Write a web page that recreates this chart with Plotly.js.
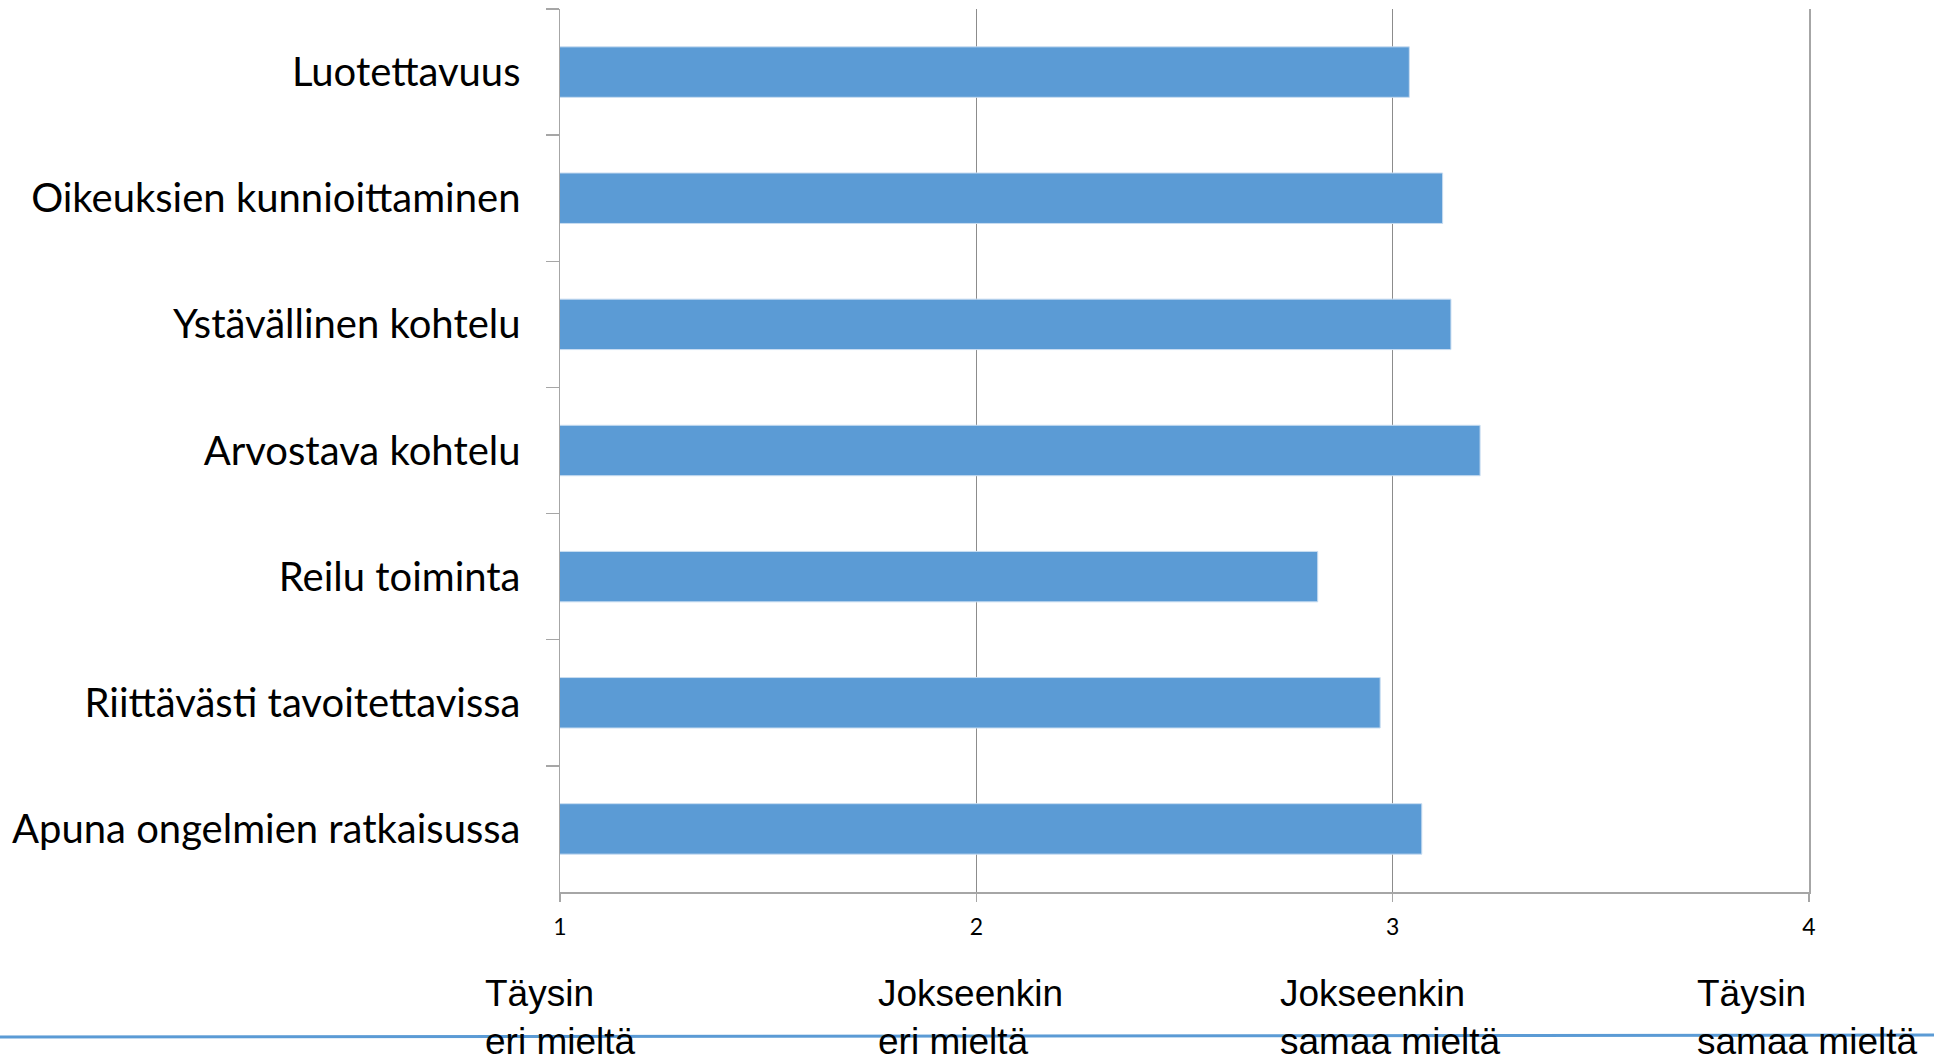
<!DOCTYPE html>
<html>
<head>
<meta charset="utf-8">
<script src="https://cdn.plot.ly/plotly-3.0.1.min.js"></script>
<style>
  html, body { margin: 0; padding: 0; background: #ffffff; }
  #chart { width: 1934px; height: 1054px; }
</style>
</head>
<body>
<div id="chart"></div>
<script>
// Categories, top to bottom
const categories = [
  "Luotettavuus",
  "Oikeuksien kunnioittaminen",
  "Ystävällinen kohtelu",
  "Arvostava kohtelu",
  "Reilu toiminta",
  "Riittävästi tavoitettavissa",
  "Apuna ongelmien ratkaisussa"
];
// Mean scores (scale 1–4)
const values = [3.04, 3.12, 3.14, 3.21, 2.82, 2.97, 3.07];
// Axis ticks
const tickValues = [1, 2, 3, 4];
const tickTexts = ["1", "2", "3", "4"];
// Scale descriptions under the axis
const scaleLabels = [
  "Täysin<br>eri mieltä",
  "Jokseenkin<br>eri mieltä",
  "Jokseenkin<br>samaa mieltä",
  "Täysin<br>samaa mieltä"
];

const W = 1934, H = 1054;
const ML = 560, MR = 125, MT = 9, MB = 162;
const plotW = W - ML - MR, plotH = H - MT - MB;
const px2paperX = p => (p - ML) / plotW;
const px2paperY = p => (H - MB - p) / plotH;

const labelLeftPx = [483, 876, 1278, 1695];

const annotations = scaleLabels.map((t, i) => ({
  text: t,
  xref: "paper", yref: "paper",
  x: px2paperX(labelLeftPx[i]),
  y: px2paperY(971),
  xanchor: "left", yanchor: "top",
  align: "left",
  showarrow: false,
  font: { family: "'Liberation Sans', Arial, sans-serif", size: 37, color: "#000000" }
}));

const trace = {
  type: "bar",
  orientation: "h",
  y: categories,
  x: values,
  marker: { color: "#5b9bd5", line: { color: "#c9ddf1", width: 1 } },
  hoverinfo: "x+y"
};

const layout = {
  width: W, height: H,
  margin: { l: ML, r: MR, t: MT, b: MB, pad: 0 },
  paper_bgcolor: "#ffffff",
  plot_bgcolor: "#ffffff",
  showlegend: false,
  bargap: 0.6,
  font: { family: "Lato, 'Open Sans', sans-serif", color: "#000000" },
  xaxis: {
    range: [1, 4],
    tickvals: tickValues,
    ticktext: tickTexts,
    showgrid: true,
    gridcolor: "#8c8c8c",
    gridwidth: 1,
    zeroline: false,
    showline: true,
    linecolor: "#a6a6a6",
    linewidth: 2,
    ticks: "outside",
    ticklen: 8,
    tickwidth: 1.5,
    tickcolor: "#a6a6a6",
    ticklabelstandoff: 5,
    tickfont: { family: "Lato, 'Open Sans', sans-serif", size: 23, color: "#000000" },
    fixedrange: true
  },
  yaxis: {
    type: "category",
    autorange: "reversed",
    tickson: "boundaries",
    ticks: "outside",
    ticklen: 13,
    tickwidth: 1.5,
    tickcolor: "#a6a6a6",
    showline: true,
    mirror: true,
    linecolor: "#a6a6a6",
    linewidth: 1.5,
    showgrid: false,
    zeroline: false,
    ticklabelstandoff: 30,
    tickfont: { family: "Lato, 'Open Sans', sans-serif", size: 40, color: "#000000" },
    fixedrange: true
  },
  annotations: annotations,
  shapes: [{
    type: "line",
    xref: "paper", yref: "paper",
    x0: px2paperX(0), x1: px2paperX(W),
    y0: px2paperY(1037), y1: px2paperY(1035),
    line: { color: "#5b9bd5", width: 3 },
    layer: "above"
  }]
};

Plotly.newPlot("chart", [trace], layout, { displayModeBar: false, staticPlot: true });
</script>
</body>
</html>
